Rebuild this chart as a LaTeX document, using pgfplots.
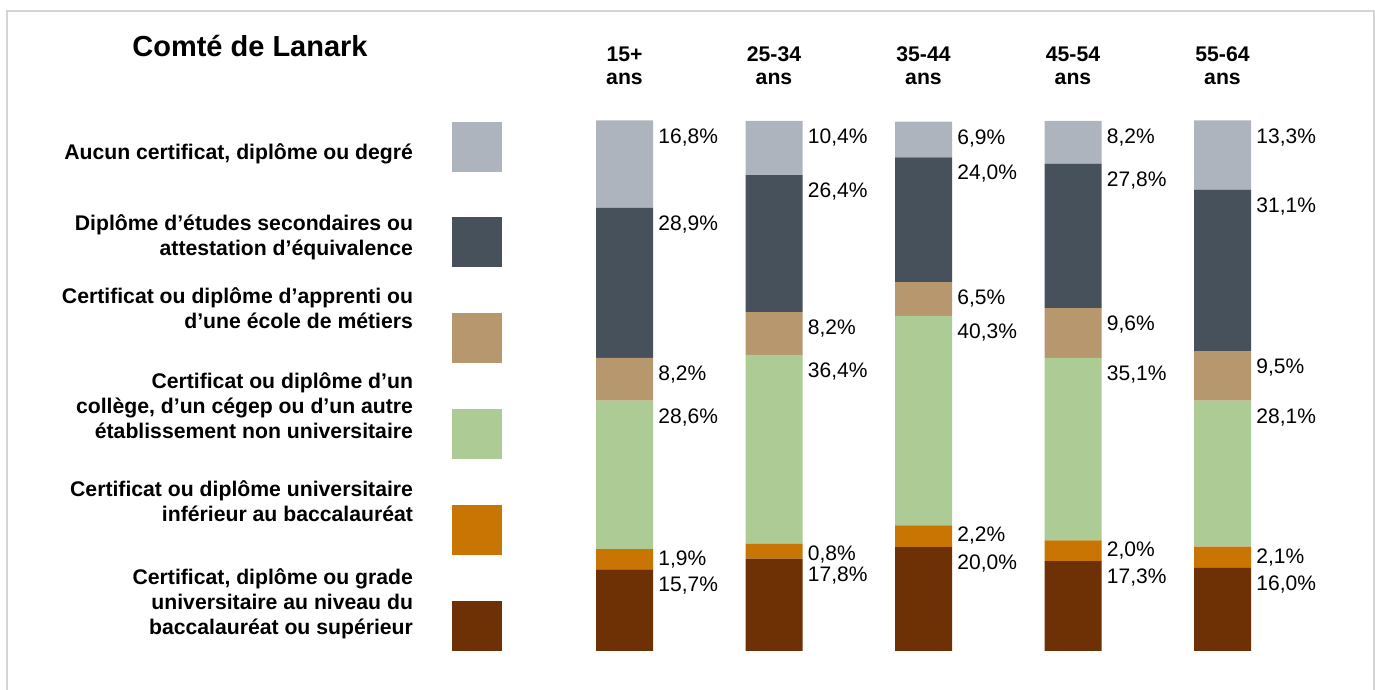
\documentclass[border=0pt]{standalone}
\usepackage{fontspec}
\setmainfont{Liberation Sans}
\usepackage{pgfplots}
\pgfplotsset{compat=1.18}

\definecolor{cAucun}{RGB}{173,180,190}
\definecolor{cSec}{RGB}{70,81,92}
\definecolor{cApp}{RGB}{183,151,110}
\definecolor{cCol}{RGB}{173,203,148}
\definecolor{cInf}{RGB}{200,117,3}
\definecolor{cBac}{RGB}{109,49,5}
\definecolor{cFrame}{RGB}{212,212,212}

% legend swatch: colour, vertical offset of the square, room above, room below
\newcommand{\legsq}[4]{%
  \path[fill=none, draw=none] (0pt,-#4) rectangle (44.5pt,#3);
  \fill[#1, draw=none] (19.5pt,#2-12.5pt) rectangle (44.5pt,#2+12.5pt);}

\begin{document}
\begin{tikzpicture}
\useasboundingbox (0,0) rectangle (687.5pt,345pt);
\begin{axis}[
    at={(274.875pt,19.5pt)}, anchor=south west,
    scale only axis, width=373.75pt, height=265pt,
    xmin=0.5, xmax=5.5, ymin=0, ymax=102,
    ybar stacked, bar width=28.5pt,
    axis line style={draw=none}, major tick length=0pt,
    ytick=\empty,
    xtick={1,2,3,4,5},
    xticklabels={{15+\\ans},{25-34\\ans},{35-44\\ans},{45-54\\ans},{55-64\\ans}},
    xticklabel pos=upper,
    xticklabel style={align=center, font=\fontsize{10.6}{11.5}\selectfont\bfseries,
                      inner sep=0pt, anchor=south, yshift=18pt},
    clip=false,
    title={Comté de Lanark},
    every axis title/.style={at={(axis description cs:-0.401,1.1226)}, anchor=base,
                 font=\fontsize{14.5}{17}\selectfont\bfseries, inner sep=0pt},
    point meta=explicit,
    visualization depends on={rawy \as \segh},
    nodes near coords={\pgfmathprintnumber[fixed,fixed zerofill,precision=1,use comma,assume math mode=true]{\pgfplotspointmeta}\%},
    every node near coord/.append style={anchor=north west, inner sep=0pt, xshift=16.75pt,
                                         yshift={1.29902*\segh},
                                         font=\fontsize{10.5}{12}\selectfont, text=black},
    legend plot pos=right, reverse legend, legend cell align=right,
    legend style={draw=none, fill=none, at={(-0.0639,1)}, anchor=north east,
                  inner sep=0pt, outer sep=0pt, row sep=0pt, column sep=0pt,
                  cells={anchor=east},
                  nodes={inner sep=0pt, outer sep=0pt, align=right, text=black,
                         font=\fontsize{10.6}{12.5}\selectfont\bfseries}},
]
\addplot[fill=cBac, draw=none,
    legend image code/.code={\legsq{cBac}{-11.5pt}{22pt}{25pt}},
    every node near coord/.append style={yshift=-3.75pt}]
    coordinates {(1,15.7)[15.7] (2,17.8)[17.8] (3,20.0)[20.0] (4,17.3)[17.3] (5,16.0)[16.0]};
\addlegendentry{Certificat, diplôme ou grade\\universitaire au niveau du\\baccalauréat ou supérieur}
\addplot[fill=cInf, draw=none,
    legend image code/.code={\legsq{cInf}{-13.5pt}{20pt}{28pt}},
    every node near coord/.append style={yshift=-0.75pt}]
    coordinates {(1,3.9)[1.9] (2,2.8)[0.8] (3,4.2)[2.2] (4,4.0)[2.0] (5,4.1)[2.1]};
\addlegendentry{Certificat ou diplôme universitaire\\inférieur au baccalauréat}
\addplot[fill=cCol, draw=none,
    legend image code/.code={\legsq{cCol}{-13.5pt}{20.5pt}{28pt}},
    every node near coord/.append style={yshift=-3.75pt}]
    coordinates {(1,28.6)[28.6] (2,36.4)[36.4] (3,40.3)[40.3] (4,35.1)[35.1] (5,28.1)[28.1]};
\addlegendentry{Certificat ou diplôme d’un\\collège, d’un cégep ou d’un autre\\établissement non universitaire}
\addplot[fill=cApp, draw=none,
    legend image code/.code={\legsq{cApp}{-14pt}{20.5pt}{28pt}},
    every node near coord/.append style={yshift=-3.75pt}]
    coordinates {(1,8.2)[8.2] (2,8.2)[8.2] (3,6.5)[6.5] (4,9.6)[9.6] (5,9.5)[9.5]};
\addlegendentry{Certificat ou diplôme d’apprenti ou\\d’une école de métiers}
\addplot[fill=cSec, draw=none,
    legend image code/.code={\legsq{cSec}{-2.5pt}{14pt}{16pt}},
    every node near coord/.append style={yshift=-3.75pt}]
    coordinates {(1,28.9)[28.9] (2,26.4)[26.4] (3,24.0)[24.0] (4,27.8)[27.8] (5,31.1)[31.1]};
\addlegendentry{Diplôme d’études secondaires ou\\attestation d’équivalence}
\addplot[fill=cAucun, draw=none,
    legend image code/.code={\legsq{cAucun}{3pt}{16pt}{28pt}},
    every node near coord/.append style={yshift=-3.75pt}]
    coordinates {(1,16.8)[16.8] (2,10.4)[10.4] (3,6.9)[6.9] (4,8.2)[8.2] (5,13.3)[13.3]};
\addlegendentry{Aucun certificat, diplôme ou degré}
\end{axis}
\draw[cFrame, line width=0.75pt] (3.5pt,-2pt) -- (3.5pt,339.5pt) -- (687pt,339.5pt) -- (687pt,-2pt);
\end{tikzpicture}
\end{document}
